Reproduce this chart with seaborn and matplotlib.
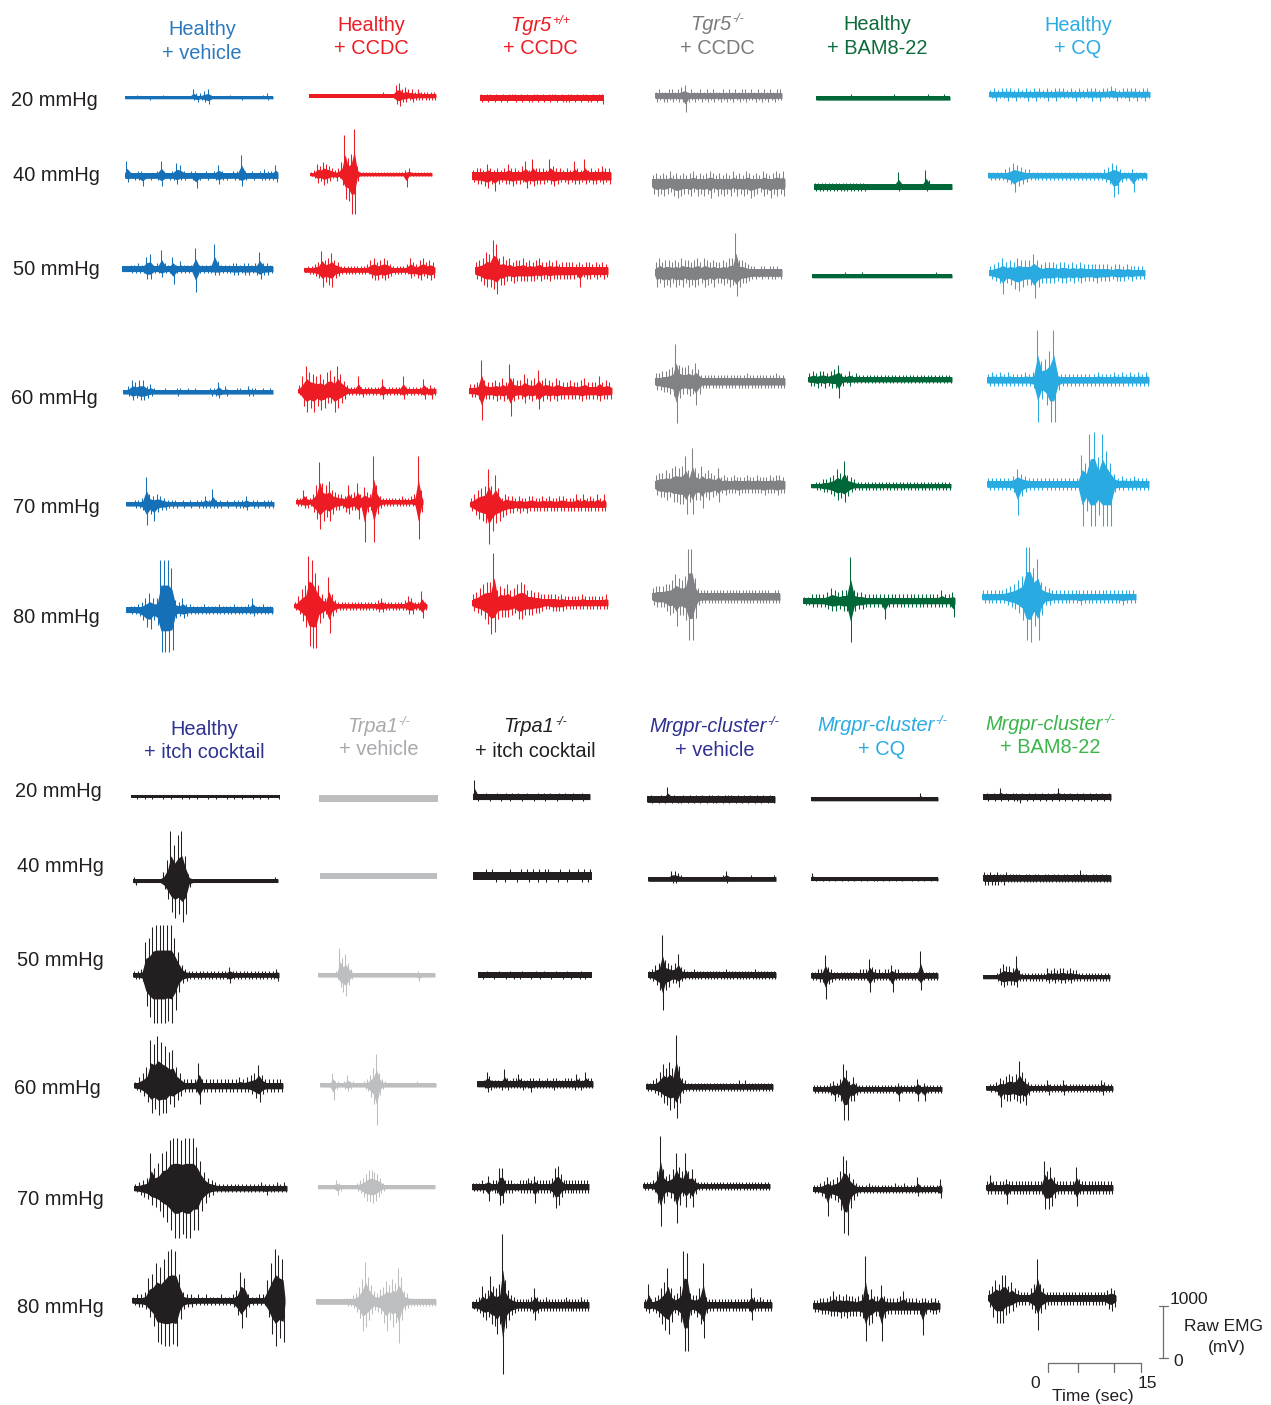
import numpy as np
import matplotlib
matplotlib.use("Agg")
import matplotlib.pyplot as plt
import seaborn as sns

# ------------------------------------------------------------------
# Data: raw EMG envelopes, one string per pressure step (20..80 mmHg).
# Each character is one of 40 equal time bins; its value is the peak
# excursion above (UP) or below (DN) the baseline in steps of 40 mV.
# NOISE is the half-width of the resting baseline band in mV.
# ------------------------------------------------------------------
PRESSURES = ["20 mmHg", "40 mmHg", "50 mmHg", "60 mmHg", "70 mmHg", "80 mmHg"]

# --- top block ---
HV_UP = ["0001000000 1000000042 2341000010 0000000120",
         "7002200027 0026520220 0202520022 a202023225",
         "1122326723 932624222a 2222c42223 3233238332",
         "1365663421 1211221212 1112251311 2213221212",
         "11223d5454 3222121212 2427221212 2241221222",
         "122346866o ook5463322 2322232223 2223622322"]
HV_DN = ["0000001000 0000000012 1230000000 0100000010",
         "3022502025 0224220262 0202422022 5202022223",
         "1122225522 422722222b 2222332223 3233235332",
         "1243443211 1111211111 1112231211 1112211111",
         "11223a5843 3222121212 2222221212 2231221222",
         "122358957k kkj4343222 2222222222 2222322222"]
HV_NOISE = [25, 55, 50, 40, 40, 50]

HCCDC_UP = ["1111111111 1111111111 1112111563 4332322222",
            "1254654323 6j8am41111 1111111111 1231111111",
            "1223495685 4222222223 5645653222 2364356454",
            "37c987869a 7c85322722 2222622222 7222226232",
            "2263248j98 a654438459 4754m83222 22232234m6",
            "258aomga64 e632222222 2222234222 2223542272"]
HCCDC_DN = ["1111111111 1111111111 1111111453 3232222222",
            "1243543232 5cdjj31111 1111111111 1611111111",
            "1223486784 3222222222 4554543222 2243453454",
            "27a8a79866 a864222232 2222422222 4222224242",
            "2233258d97 9644356448 4j54j63222 22222223i5",
            "247ajkk864 d532222222 2222233222 2222442262"]
HCCDC_NOISE = [35, 30, 45, 45, 40, 40]

TGR5WT_UP = ["2122121212 2212121221 2122212122 1212212122",
             "3443643434 6443573844 4385443437 4383434544",
             "45698fd675 6455645456 4454534444 3434434343",
             "334f544546 4d6558656a 5654654454 4564447454",
             "35789h9e83 5443433443 3434334433 3535343535",
             "4579aao687 9679a96655 4444434333 3343333334"]
TGR5WT_DN = ["2121212121 1212122121 2121212221 2121221213",
             "3445647434 4544364544 4345433434 4343443434",
             "457889b775 5655555545 4454444444 3834434343",
             "334e444545 4c54464549 5454544444 4544445444",
             "35789jd986 5443434333 3333333333 3333333333",
             "4568afe877 7658866655 4334444333 3333333333"]
TGR5WT_NOISE = [60, 70, 70, 55, 50, 55]

TGR5KO_UP = ["2322332345 2322323232 2323232332 3232323233",
             "4545464545 4564545654 5454645465 4546545656",
             "5756656576 6567576565 56577j6654 3323323332",
             "445567i877 8696333333 3333333343 3333333433",
             "566768989e 7i86967658 4544544454 4544454554",
             "4555668b98 ann9433333 3333333333 3333333233"]
TGR5KO_DN = ["3233232338 3232323232 3232323232 2323232322",
             "5656546765 5646565746 5656465657 6546575656",
             "7576757675 7676576575 56576b7554 3323233323",
             "445567k866 76b6333333 3333333333 3333333333",
             "566768899e 8e77b67658 4544454444 4445444544",
             "4555798e99 blla433333 3333333333 3333333333"]
TGR5KO_NOISE = [50, 80, 70, 65, 70, 65]

HBAM_UP = ["1111111111 2111111111 1112111111 1112111121",
           "2222222222 2222211111 1111711111 1183111111",
           "1111111112 1111211111 1111111111 1111121111",
           "3434434573 2423222222 2222222222 2222222222",
           "122334586c 5432222222 2222222222 2222222222",
           "2233334654 55l5443333 3333333333 3333335334"]
HBAM_DN = ["1111111111 1111111111 1111111111 1111111111",
           "2222222222 2222211111 1111211111 1121111111",
           "1111111111 1111111111 1111111111 1111111111",
           "3343434493 2322222222 2222222222 2222222222",
           "1223345768 5322222222 2222222222 2222222222",
           "2233334554 55k5443333 3933333333 3333333338"]
HBAM_NOISE = [35, 55, 35, 50, 40, 55]

HCQ_UP = ["2323332323 2332323332 3232333233 4323333233",
          "2222346543 3222222222 2222222223 4653223222",
          "3457565766 6964555455 4545444444 4344343333",
          "3434343334 34o9aeo433 3333333433 3434343434",
          "3333334754 3333333333 333eaopdog a534334333",
          "3333334568 aooei75433 3333333333 3333333333"]
HCQ_DN = ["2322323223 2322323222 2322232322 2322323232",
          "2222348543 2222222222 2222222223 4a93228222",
          "345a568976 6c75555455 4545444544 4344434333",
          "3333333333 34k9ckk533 3333333333 3333333333",
          "3333334f64 3333333333 333kdkkfkk k433333333",
          "3333334568 blmel94433 3333343333 3333334333"]
HCQ_NOISE = [50, 45, 55, 60, 65, 60]

# --- bottom block ---
HITCH_UP = ["1010101101 0110101011 0101101010 1101010110",
            "211111114a ohmoc31111 1111111111 1111111112",
            "223ginoooo oib5322222 2222224222 2222222223",
            "2469mkoljg h963333b33 3333333343 456a533333",
            "2345hachin oonoookd85 4322222222 2223222323",
            "2334bdigko pod4332323 22232235eb 32233aipmk"]
HITCH_DN = ["0101010010 1001010100 1010010101 0010101001",
            "2111111149 figkg31111 1111111111 1111111111",
            "223fknnnnm nh84322222 2222224222 2222222223",
            "2358dbedd9 a753333933 3333333333 3468433333",
            "234589begk oomookkb74 3222222222 2222322222",
            "23348cklmm lm94332222 22222237d8 322228gmik"]
HITCH_NOISE = [30, 35, 45, 50, 50, 50]

TRPA1V_UP = ["0000100000 0001000000 0000001000 0100000000",
             "0000000000 0000100000 0000000010 0000000000",
             "1111112d8a 6311111111 1111111111 1111211111",
             "1111622125 221112358f 6321111111 1112111111",
             "1111113211 1112346887 6421111111 1111111111",
             "1111111112 22347bjc85 467a8b9gc5 4222222222"]
TRPA1V_DN = ["0000000000 0000010000 0000000000 0000000100",
             "0000000000 0000000000 0000000000 0000000000",
             "111111268a 5211111111 1111111111 1111311111",
             "1111721123 211112369j 5211111111 1111111111",
             "1111114211 1112357787 5321111111 1111111111",
             "1111111111 22358ec964 56ae9cak94 3222222222"]
TRPA1V_NOISE = [70, 60, 40, 40, 40, 50]

TRPA1I_UP = ["8111211121 1212121121 1121212112 1211211211",
             "2222323222 2232223232 3232332223 2232232323",
             "1112111211 1211121111 2112111211 1211112111",
             "1126422217 3233532233 2322323322 3332532633",
             "2223252339 9333223334 353333349a 6333333333",
             "234967e98a yc75433333 4843343333 3343333433"]
TRPA1I_DN = ["1211121112 1121112111 2111211121 1112111211",
             "2222222322 3222322232 2322322232 2322223232",
             "1211121112 1121211121 1211121112 1121121211",
             "1124322232 3222232242 2222223222 2223232222",
             "2223272339 8333223333 38333335a9 5333333333",
             "2346769ae9 xb75433333 4743333333 3333333333"]
TRPA1I_NOISE = [55, 75, 55, 55, 60, 60]

MRGV_UP = ["1211216121 1212121212 2121222121 2121212121",
           "1111111443 2111111111 1112411111 1121111112",
           "2356j7656a 4322322222 2222322222 2223222222",
           "22347b9c9p a432222222 2222222223 2322222222",
           "22237o8568 g97g784222 2222222222 2222222222",
           "3a3458bi85 69qp6558k4 3333333333 3338434333"]
MRGV_DN = ["1212121212 2121212121 2212121212 1212121212",
           "1111111221 1111111111 1111211111 1111111111",
           "2357h76446 3222222222 2222222222 2222222222",
           "2234589baf 8322222222 2222222222 2222222222",
           "22238j8567 i95a6a4222 2222222222 2222222222",
           "343469ce84 58mm5469g4 3333333333 3337333333"]
MRGV_NOISE = [60, 45, 50, 50, 45, 55]

MRGCQ_UP = ["1010101101 0101101010 1101010101 0101310101",
            "3011010101 1010101010 0101101010 1010101010",
            "2233a43222 2222233384 3323353322 2222c22222",
            "222223435c 9463222222 2222223222 2252322222",
            "223464569g e853222322 2222232232 2262222225",
            "3344457565 655456o685 5a54444574 4443443443"]
MRGCQ_DN = ["0101010010 1010010101 0010101010 1010101010",
            "0101010101 0101010101 1010101010 0101010101",
            "2233b43222 2222222283 2222282222 2222722222",
            "222223646f f663222222 2222226222 2262622222",
            "2234d456al m953222222 2222222222 2232222224",
            "3344455565 655556h985 5h64444444 4444e43443"]
MRGCQ_NOISE = [35, 30, 50, 45, 45, 55]

MRGBAM_UP = ["1212141212 2121212121 2124121212 1212121212",
             "3232322322 2212212212 2122122122 4221221221",
             "1111246554 a322222222 4343443433 2222222222",
             "1223546767 d853222224 2222422222 2222224322",
             "3633334333 33333333d8 a5333333a4 3333333333",
             "4697bb6854 33357j7533 3333333333 3333333454"]
MRGBAM_DN = ["1212121212 2312121212 1212121212 1212121212",
             "3333323222 2222222222 2222222222 2222222222",
             "1111245444 5222222222 3232332322 2222222222",
             "1223956656 7683222223 2222322222 2222223222",
             "3333338333 33333333aa 9533333393 3333333333",
             "49ccc87643 33357f7533 3333333333 3333333564"]
MRGBAM_NOISE = [55, 55, 40, 40, 50, 55]

# Column headers: (first line, superscript genotype, second line, italic)
TOP_HEADERS = [("Healthy", "", "+ vehicle", False),
               ("Healthy", "", "+ CCDC", False),
               ("Tgr5", "+/+", "+ CCDC", True),
               ("Tgr5", "-/-", "+ CCDC", True),
               ("Healthy", "", "+ BAM8-22", False),
               ("Healthy", "", "+ CQ", False)]
BOT_HEADERS = [("Healthy", "", "+ itch cocktail", False),
               ("Trpa1", "-/-", "+ vehicle", True),
               ("Trpa1", "-/-", "+ itch cocktail", True),
               ("Mrgpr-cluster", "-/-", "+ vehicle", True),
               ("Mrgpr-cluster", "-/-", "+ CQ", True),
               ("Mrgpr-cluster", "-/-", "+ BAM8-22", True)]

EMG_SCALE_MV = 1000
TIME_SCALE_S = 15
TIME_TICKS_S = [0, 4.8, 10.6, 15]

# ------------------------------------------------------------------
# Layout (figure pixels) and styling
# ------------------------------------------------------------------
W, H = 1271, 1405
PX_PER_MV = 52.0 / 1000.0
PX_PER_S = 93.0 / 15.0
LEVEL_MV = 40.0
LEVELS = "0123456789abcdefghijklmnopqrstuvwxyz"

TOP_COLORS = ["#1570B8", "#ED1C24", "#ED1C24", "#808285", "#006838", "#29ABE2"]
TOP_HEAD_COLORS = ["#2A79BF", "#ED1C24", "#ED1C24", "#7A7B7E", "#0B6B3A", "#29ABE2"]
BOT_COLORS = ["#231F20", "#BCBEC0", "#231F20", "#231F20", "#231F20", "#231F20"]
BOT_HEAD_COLORS = ["#2E3192", "#A7A9AC", "#231F20", "#2E3192", "#29ABE2", "#39B54A"]
LABEL_COLOR = "#231F20"

# (x start, x end, baseline y) per column, per pressure
TOP_SPANS = [
    [(125, 273, 97.5), (125, 278, 175.5), (122, 273, 269), (123, 273, 392), (126, 274, 504), (126, 273, 610)],
    [(309, 436, 95.7), (310, 432, 174.3), (304, 435, 270), (298, 436, 391), (296, 423, 502), (294, 427, 606)],
    [(480, 604, 97.7), (472, 611, 176), (475, 608, 270.7), (469, 612, 390.7), (470, 606, 504.3), (472, 608, 602.7)],
    [(655, 782, 95.7), (652, 785, 183.3), (655, 782, 272.7), (655, 785, 381.7), (655, 785, 485), (652, 780, 596.7)],
    [(816, 950, 98.3), (814, 952, 186.7), (812, 952, 276), (808, 952, 379.3), (811, 951, 485.7), (803, 955, 600.7)],
    [(989, 1150, 94.3), (988, 1147, 175.7), (989, 1145, 272.7), (987, 1149, 380), (987, 1149, 484), (982, 1136, 596.7)],
]
BOT_SPANS = [
    [(131, 280, 796.7), (133, 278, 880.7), (133, 279, 975), (134, 283, 1085.7), (134, 287, 1188.3), (132, 285, 1300.7)],
    [(319, 438, 798.7), (320, 437, 875.7), (318, 435, 975), (320, 436, 1085), (318, 435, 1186.7), (316, 436, 1301.7)],
    [(473, 590, 796.7), (473, 592, 875.7), (478, 592, 975), (477, 593, 1084), (472, 589, 1186.7), (472, 589, 1305)],
    [(647, 775, 799.3), (648, 776, 879), (648, 776, 975), (646, 773, 1086.7), (643, 770, 1186), (644, 772, 1305)],
    [(811, 938, 799), (811, 938, 879), (811, 938, 975.7), (813, 942, 1089), (813, 942, 1189.3), (813, 940, 1306)],
    [(983, 1111, 796.7), (983, 1111, 878.3), (983, 1110, 976.7), (986, 1113, 1088.3), (986, 1113, 1187.7), (988, 1116, 1298.3)],
]
TOP_HEAD_POS = [(202, 35, 59), (371, 31, 54), (540, 31, 54), (717.5, 29.5, 53.5), (877, 29.5, 53.5), (1078, 31, 54)]
BOT_HEAD_POS = [(204.5, 735, 758.3), (378.5, 731.7, 755), (535, 731.7, 756.7),
                (714.5, 731.7, 756), (882, 731, 755), (1050, 730, 753.3)]
TOP_LABEL_POS = [(10.7, 106), (13.3, 180.7), (13.3, 275), (10.7, 404), (13.3, 513.3), (13.3, 623.3)]
BOT_LABEL_POS = [(15, 797.3), (16.7, 871.7), (16.7, 966), (14, 1094.3), (16.7, 1205), (16.7, 1313.3)]

FS_MAIN = 14.4
FS_SUP = 9.0
FS_SCALE = 12.5

sns.set_theme(style="white")
plt.rcParams["font.family"] = ["Liberation Sans", "DejaVu Sans"]


def decode(s):
    s = s.replace(" ", "")
    return np.array([LEVELS.index(c) for c in s], dtype=float) * LEVEL_MV


def draw_trace(ax, span, up, dn, noise, color):
    x0, x1, y = span
    u, d = decode(up), decode(dn)
    n = max(len(u), len(d))
    u = np.pad(u, (0, n - len(u)))
    d = np.pad(d, (0, n - len(d)))
    bw = (x1 - x0) / n
    xs = x0 + (np.arange(n) + 0.5) * bw
    nz = noise * PX_PER_MV
    up_px = np.maximum(u * PX_PER_MV, nz)
    dn_px = np.maximum(d * PX_PER_MV, nz)
    # dense core of the signal, joined through the bin centres
    xe = np.concatenate([[x0], xs, [x1]])
    cu = np.maximum(0.5 * u * PX_PER_MV, nz)
    cd = np.maximum(0.5 * d * PX_PER_MV, nz)
    cu = np.concatenate([[nz], cu, [nz]])
    cd = np.concatenate([[nz], cd, [nz]])
    ax.fill_between(xe, y - cu, y + cd, color=color, lw=0)
    ax.fill_between([x0, x1], y - nz, y + nz, color=color, lw=0)
    # upward and downward spikes, slightly staggered within each bin
    ku = up_px > nz + 0.5
    kd = dn_px > nz + 0.5
    ax.vlines(xs[ku] - 0.2 * bw, y - up_px[ku], y, colors=color, lw=0.75)
    ax.vlines(xs[kd] + 0.2 * bw, y, y + dn_px[kd], colors=color, lw=0.75)


def draw_header(ax, renderer, pos, header, color):
    cx, b1, b2 = pos
    main, sup, second, italic = header
    style = "italic" if italic else "normal"
    t1 = ax.text(0, b1, main, fontsize=FS_MAIN, color=color, style=style,
                 ha="left", va="baseline")
    w1 = t1.get_window_extent(renderer).width
    w2 = 0
    t2 = None
    if sup:
        t2 = ax.text(0, b1 - 7, sup, fontsize=FS_SUP, color=color, style=style,
                     ha="left", va="baseline")
        w2 = t2.get_window_extent(renderer).width + 1
    start = cx - (w1 + w2) / 2
    t1.set_x(start)
    if t2 is not None:
        t2.set_x(start + w1 + 1)
    ax.text(cx, b2, second, fontsize=FS_MAIN, color=color, ha="center", va="baseline")


fig = plt.figure(figsize=(W / 100, H / 100), dpi=100)
ax = fig.add_axes([0, 0, 1, 1])
ax.set_xlim(0, W)
ax.set_ylim(H, 0)
ax.axis("off")
renderer = fig.canvas.get_renderer()

top_up = [HV_UP, HCCDC_UP, TGR5WT_UP, TGR5KO_UP, HBAM_UP, HCQ_UP]
top_dn = [HV_DN, HCCDC_DN, TGR5WT_DN, TGR5KO_DN, HBAM_DN, HCQ_DN]
top_nz = [HV_NOISE, HCCDC_NOISE, TGR5WT_NOISE, TGR5KO_NOISE, HBAM_NOISE, HCQ_NOISE]
bot_up = [HITCH_UP, TRPA1V_UP, TRPA1I_UP, MRGV_UP, MRGCQ_UP, MRGBAM_UP]
bot_dn = [HITCH_DN, TRPA1V_DN, TRPA1I_DN, MRGV_DN, MRGCQ_DN, MRGBAM_DN]
bot_nz = [HITCH_NOISE, TRPA1V_NOISE, TRPA1I_NOISE, MRGV_NOISE, MRGCQ_NOISE, MRGBAM_NOISE]

for g in range(6):
    for r in range(6):
        draw_trace(ax, TOP_SPANS[g][r], top_up[g][r], top_dn[g][r], top_nz[g][r], TOP_COLORS[g])
        draw_trace(ax, BOT_SPANS[g][r], bot_up[g][r], bot_dn[g][r], bot_nz[g][r], BOT_COLORS[g])
    draw_header(ax, renderer, TOP_HEAD_POS[g], TOP_HEADERS[g], TOP_HEAD_COLORS[g])
    draw_header(ax, renderer, BOT_HEAD_POS[g], BOT_HEADERS[g], BOT_HEAD_COLORS[g])

for r, label in enumerate(PRESSURES):
    ax.text(*TOP_LABEL_POS[r], label, fontsize=FS_MAIN, color=LABEL_COLOR, ha="left", va="baseline")
    ax.text(*BOT_LABEL_POS[r], label, fontsize=FS_MAIN, color=LABEL_COLOR, ha="left", va="baseline")

# scale bars
bar_col = "#6D6E71"
vx, vbot = 1163.3, 1358.3
vtop = vbot - EMG_SCALE_MV * PX_PER_MV
ax.plot([vx, vx], [vtop, vbot], color=bar_col, lw=0.9)
for yy in (vtop, vbot):
    ax.plot([vx - 4, vx + 4.5], [yy, yy], color=bar_col, lw=0.9)
ax.text(1170, 1299, f"{EMG_SCALE_MV}", fontsize=FS_SCALE, color=LABEL_COLOR, ha="left", va="center")
ax.text(1178, 1361.7, "0", fontsize=FS_SCALE, color=LABEL_COLOR, ha="center", va="center")
ax.text(1224, 1326.7, "Raw EMG", fontsize=FS_SCALE, color=LABEL_COLOR, ha="center", va="center")
ax.text(1226.7, 1347.7, "(mV)", fontsize=FS_SCALE, color=LABEL_COLOR, ha="center", va="center")

hx0, hy = 1048.3, 1362.7
ax.plot([hx0, hx0 + TIME_SCALE_S * PX_PER_S], [hy, hy], color=bar_col, lw=0.9)
for t in TIME_TICKS_S:
    xx = hx0 + t * PX_PER_S
    ax.plot([xx, xx], [hy, hy + 9], color=bar_col, lw=0.9)
ax.text(1035, 1383.3, "0", fontsize=FS_SCALE, color=LABEL_COLOR, ha="center", va="center")
ax.text(1147, 1383.3, f"{TIME_SCALE_S}", fontsize=FS_SCALE, color=LABEL_COLOR, ha="center", va="center")
ax.text(1093, 1396.7, "Time (sec)", fontsize=FS_SCALE, color=LABEL_COLOR, ha="center", va="center")

fig.savefig("out.png", dpi=100)
